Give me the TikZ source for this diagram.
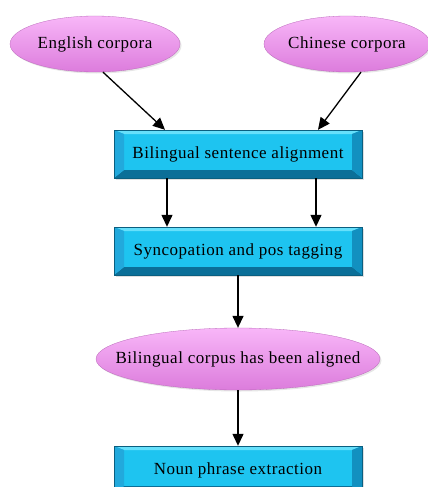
\documentclass[tikz,border=0pt]{standalone}
\usepackage{fontspec}
\newfontfamily\diagfont{Liberation Serif}[LetterSpace=3]
\usetikzlibrary{shapes.geometric,arrows.meta,shadows}

\definecolor{boxface}{HTML}{1EC4F0}
\definecolor{boxtop}{HTML}{66E0FB}
\definecolor{boxleft}{HTML}{22A9DC}
\definecolor{boxright}{HTML}{1290C0}
\definecolor{boxbot}{HTML}{0B6F98}
\definecolor{boxedge}{HTML}{0A5F80}
\definecolor{ovtop}{HTML}{F8B6F8}
\definecolor{ovmid}{HTML}{F5A0F5}
\definecolor{ovbot}{HTML}{DC7CDC}
\definecolor{ovedge}{HTML}{B868B8}

\tikzset{
  bevelbox/.style={rectangle, minimum width=248pt, minimum height=48pt, inner sep=0pt,
    fill=boxface, draw=boxedge, line width=0.4pt,
    font=\diagfont\fontsize{17}{20}\selectfont,
    drop shadow={opacity=0.25, shadow xshift=1.5pt, shadow yshift=-1.5pt},
    path picture={
      \coordinate (bnw) at (path picture bounding box.north west);
      \coordinate (bne) at (path picture bounding box.north east);
      \coordinate (bsw) at (path picture bounding box.south west);
      \coordinate (bse) at (path picture bounding box.south east);
      \fill[boxtop] (bnw) -- (bne) -- ([shift={(-10pt,-4pt)}]bne) -- ([shift={(10pt,-4pt)}]bnw) -- cycle;
      \fill[boxbot] (bsw) -- (bse) -- ([shift={(-10pt,8pt)}]bse) -- ([shift={(10pt,8pt)}]bsw) -- cycle;
      \fill[boxleft] (bnw) -- ([shift={(10pt,-4pt)}]bnw) -- ([shift={(10pt,8pt)}]bsw) -- (bsw) -- cycle;
      \fill[boxright] (bne) -- ([shift={(-10pt,-4pt)}]bne) -- ([shift={(-10pt,8pt)}]bse) -- (bse) -- cycle;
    }},
  oval/.style={ellipse, inner xsep=-40pt, inner ysep=0pt,
    top color=ovtop, middle color=ovmid, bottom color=ovbot,
    draw=ovedge, line width=0.3pt,
    font=\diagfont\fontsize{17}{20}\selectfont,
    drop shadow={opacity=0.2, shadow xshift=1.5pt, shadow yshift=-1.5pt}},
  flow/.style={-{Triangle[length=12pt,width=11pt]}, line width=1.3pt}
}

\begin{document}
\begin{tikzpicture}[x=1pt,y=-1pt]
  \useasboundingbox (0,0) rectangle (428,487);

  % sources
  \node[oval, minimum width=170pt, minimum height=56pt] (eng) at (95,44) {English corpora};
  \node[oval, minimum width=166pt, minimum height=56pt] (chi) at (347,44) {Chinese corpora};

  % processing steps
  \node[bevelbox] (align) at (238,154) {Bilingual sentence alignment};
  \node[bevelbox] (seg) at (238,251) {Syncopation and pos tagging};
  \node[oval, minimum width=284pt, minimum height=62pt] (aligned) at (238,359) {Bilingual corpus has been aligned};
  \node[bevelbox] (npe) at (238,470) {Noun phrase extraction};

  % connectors
  \draw[flow] ([xshift=8pt]eng.south) -- ([xshift=-73pt]align.north);
  \draw[flow] ([xshift=14pt]chi.south) -- ([xshift=80pt]align.north);
  \draw[flow] ([xshift=-71pt]align.south) -- ([xshift=-71pt]seg.north);
  \draw[flow] ([xshift=78pt]align.south) -- ([xshift=78pt]seg.north);
  \draw[flow] (seg.south) -- (aligned.north);
  \draw[flow] (aligned.south) -- (npe.north);
\end{tikzpicture}
\end{document}
